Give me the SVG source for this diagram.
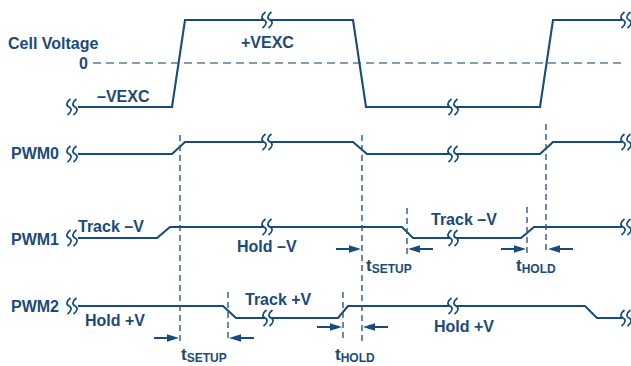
<svg xmlns="http://www.w3.org/2000/svg" width="631" height="366" viewBox="0 0 631 366">
<style>
.lbl{font-family:"Liberation Sans",Arial,Helvetica,sans-serif;font-weight:bold;font-size:16px;fill:#1b4a79}
.tt{font-size:17px}
.sub{font-size:12px}
.sig{fill:none;stroke:#174b7d;stroke-width:2.1}
.zero{fill:none;stroke:#5a7e9d;stroke-width:1.6;stroke-dasharray:8 5}
.vd{fill:none;stroke:#2a5884;stroke-width:1.4;stroke-dasharray:6 4}
.bk{fill:none;stroke:#174b7d;stroke-width:1.7}
.arw{fill:#174b7d;stroke:#174b7d}
</style>
<defs>
<g id="brk">
<rect x="-3" y="-5" width="6" height="10" fill="#fff"/>
<path class="bk" d="M-1.5,-8 C-6,-4.5 -6,-1.5 -3,0 C0,1.5 0,4.5 -4.5,8"/>
<path class="bk" d="M4.5,-8 C0,-4.5 0,-1.5 3,0 C6,1.5 6,4.5 1.5,8"/>
</g>
<g id="ar" class="arw">
<line x1="-25" y1="0" x2="-10" y2="0" stroke-width="2"/>
<polygon points="0,0 -12,-3.8 -12,3.8" stroke="none"/>
</g>
</defs>
<g id="labels">
<text class="lbl" x="8" y="49">Cell Voltage</text>
<text class="lbl" x="79" y="69">0</text>
<text class="lbl" x="11" y="159">PWM0</text>
<text class="lbl" x="11" y="245">PWM1</text>
<text class="lbl" x="11" y="312">PWM2</text>
</g>
<g id="zero-line"><path class="zero" d="M93,63 H622"/></g>
<g id="cell-voltage">
<path class="sig" d="M78,107 H172 L185,20 H353 L366,107 H540 L553,20 H622"/>
<use href="#brk" x="72" y="107"/><use href="#brk" x="267" y="20"/><use href="#brk" x="453" y="107"/><use href="#brk" x="626" y="20"/>
<text class="lbl" x="97" y="102">–VEXC</text>
<text class="lbl" x="241" y="48">+VEXC</text>
</g>
<g id="pwm0">
<path class="sig" d="M78,154 H172 L185,142 H353 L367,154 H540 L553,142 H622"/>
<use href="#brk" x="72" y="154"/><use href="#brk" x="267" y="142"/><use href="#brk" x="453" y="154"/><use href="#brk" x="626" y="142"/>
</g>
<g id="pwm1">
<path class="sig" d="M78,238 H157 L170,227 H402 L413,238 H521 L534,227 H622"/>
<use href="#brk" x="72" y="238"/><use href="#brk" x="267" y="227"/><use href="#brk" x="453" y="238"/><use href="#brk" x="626" y="227"/>
<text class="lbl" x="78" y="232">Track –V</text>
<text class="lbl" x="237" y="252">Hold –V</text>
<text class="lbl" x="431" y="225">Track –V</text>
</g>
<g id="pwm2">
<path class="sig" d="M78,306 H223 L236,318 H338 L348,306 H585 L597,318 H622"/>
<use href="#brk" x="72" y="306"/><use href="#brk" x="268" y="318"/><use href="#brk" x="453" y="306"/><use href="#brk" x="626" y="318"/>
<text class="lbl" x="85" y="326">Hold +V</text>
<text class="lbl" x="245" y="305">Track +V</text>
<text class="lbl" x="434" y="332">Hold +V</text>
</g>
<g id="connectors">
<path class="vd" d="M180,135 V342 M362,135 V342 M407,208 V256 M527,207 V254 M546,124 V252 M228,292 V342 M343,292 V342"/>
<use href="#ar" transform="translate(179,338)"/>
<use href="#ar" transform="translate(229,338) scale(-1,1)"/>
<use href="#ar" transform="translate(342,327)"/>
<use href="#ar" transform="translate(363,327) scale(-1,1)"/>
<use href="#ar" transform="translate(361,249)"/>
<use href="#ar" transform="translate(408,249) scale(-1,1)"/>
<use href="#ar" transform="translate(526,249)"/>
<use href="#ar" transform="translate(548,249) scale(-1,1)"/>
</g>
<g id="timing-labels">
<text class="lbl tt" x="181" y="360">t<tspan class="sub" dy="2">SETUP</tspan></text>
<text class="lbl tt" x="335" y="360">t<tspan class="sub" dy="2">HOLD</tspan></text>
<text class="lbl tt" x="366" y="271">t<tspan class="sub" dy="2">SETUP</tspan></text>
<text class="lbl tt" x="516" y="271">t<tspan class="sub" dy="2">HOLD</tspan></text>
</g>
</svg>
